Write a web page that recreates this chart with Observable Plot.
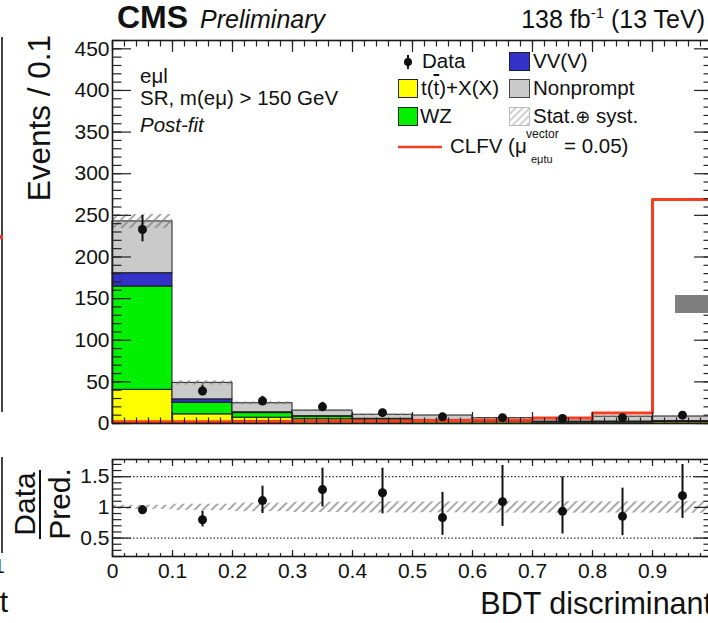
<!DOCTYPE html>
<html>
<head>
<meta charset="utf-8">
<script src="https://cdn.jsdelivr.net/npm/d3@7"></script>
<script src="https://cdn.jsdelivr.net/npm/@observablehq/plot@0.6"></script>
<style>
  html, body { margin: 0; padding: 0; background: #fff; }
  #fig { position: relative; width: 708px; height: 623px; overflow: hidden; background: #fff;
         font-family: "Liberation Sans", Arial, Helvetica, sans-serif; color: #111; }
  #main, #ratio { position: absolute; left: 0; width: 720px; }
  #main { top: 0; }
  #ratio { top: 440px; }
  #overlay { position: absolute; left: 0; top: 0; pointer-events: none; }
  .edge { position: absolute; background: #444; }
</style>
</head>
<body>
<div id="fig">
  <svg width="0" height="0" style="position:absolute">
    <defs>
      <pattern id="hatch" patternUnits="userSpaceOnUse" width="6" height="6" patternTransform="rotate(45)">
        <line x1="1" y1="0" x2="1" y2="6" stroke="#7a7a7a" stroke-width="1.3"/>
      </pattern>
      <pattern id="hatchLight" patternUnits="userSpaceOnUse" width="5" height="5" patternTransform="rotate(45)">
        <line x1="1" y1="0" x2="1" y2="5" stroke="#aaa" stroke-width="1.1"/>
      </pattern>
    </defs>
  </svg>
  <div id="main"></div>
  <div id="ratio"></div>

  <!-- pieces of the neighbouring panel along the left edge -->
  <div class="edge" style="left:1px; top:37px; width:1.5px; height:375px;"></div>
  <div class="edge" style="left:0px; top:235px; width:3px; height:4px; background:#e33;"></div>
  <div class="edge" style="left:1px; top:457px; width:1.5px; height:96px;"></div>
  <!-- grey block at the right edge -->
  <div class="edge" style="left:675px; top:295px; width:40px; height:18px; background:#7f7f7f;"></div>

  <svg id="overlay" width="708" height="623" font-family="Liberation Sans, Arial, Helvetica, sans-serif" fill="#111">
    <!-- header -->
    <text x="117" y="28" font-size="32" font-weight="bold">CMS</text>
    <text x="200" y="28" font-size="25" font-style="italic">Preliminary</text>
    <text x="705" y="28" font-size="25" text-anchor="end">138 fb<tspan dy="-10" font-size="15">-1</tspan><tspan dy="10"> (13 TeV)</tspan></text>

    <!-- axis titles -->
    <text transform="translate(50,35) rotate(-90)" font-size="31.5" text-anchor="end">Events / 0.1</text>
    <text x="712" y="614" font-size="30.5" text-anchor="end">BDT discriminant</text>
    <text transform="translate(35,504) rotate(-90)" font-size="30" text-anchor="middle">Data</text>
    <line x1="40" y1="470" x2="40" y2="539" stroke="#111" stroke-width="2"/>
    <text transform="translate(70,504) rotate(-90)" font-size="30" text-anchor="middle">Pred.</text>

    <!-- region labels -->
    <text x="140" y="83" font-size="20.5">eμl</text>
    <text x="140" y="105" font-size="20.5">SR, m(eμ) &gt; 150 GeV</text>
    <text x="140" y="132" font-size="20.5" font-style="italic">Post-fit</text>

    <!-- legend -->
    <line x1="408" y1="55" x2="408" y2="69" stroke="#111" stroke-width="2"/>
    <circle cx="408" cy="62" r="4" fill="#111"/>
    <text x="422" y="68" font-size="20.5">Data</text>
    <rect x="509.5" y="52.5" width="20" height="18" fill="#3232c8" stroke="#222"/>
    <text x="533" y="68" font-size="20.5">VV(V)</text>

    <rect x="398.5" y="79.5" width="19" height="18" fill="#ffff00" stroke="#222"/>
    <text x="421" y="95" font-size="20.5">t(<tspan style="text-decoration: overline">t</tspan>)+X(X)</text>
    <rect x="509.5" y="79.5" width="20" height="18" fill="#cacaca" stroke="#444"/>
    <text x="533" y="95" font-size="20.5">Nonprompt</text>

    <rect x="398.5" y="107.5" width="19" height="18" fill="#00f000" stroke="#222"/>
    <text x="420" y="123" font-size="20.5">WZ</text>
    <rect x="509.5" y="107.5" width="20" height="18" fill="url(#hatchLight)" stroke="#bbb"/>
    <text x="533" y="123" font-size="20.5">Stat.<tspan font-family="DejaVu Sans" font-size="18">⊕</tspan> syst.</text>

    <line x1="398" y1="147" x2="442" y2="147" stroke="#fa3d1e" stroke-width="2.5"/>
    <text x="450" y="153" font-size="20.5">CLFV (μ</text>
    <text x="526" y="138" font-size="12">vector</text>
    <text x="531" y="163" font-size="11">eμtu</text>
    <text x="564" y="153" font-size="20.5">= 0.05)</text>

    <!-- cut-off text of the neighbouring panel -->
    <text x="5" y="573" font-size="21" text-anchor="end" fill="#111">1</text>
    <text x="8" y="612" font-size="30" text-anchor="end" fill="#111">t</text>
  </svg>
</div>

<script>
// ---- BDT discriminant bins (lower edges, width 0.1) ----
const binLow = [0.0, 0.1, 0.2, 0.3, 0.4, 0.5, 0.6, 0.7, 0.8, 0.9];
const binWidth = 0.1;

// ---- post-fit background yields per bin ----
const ttX       = [40.5, 11.0, 7.0, 5.0, 3.5, 2.8, 2.0, 1.5, 1.5, 1.8];
const wz        = [124.0, 14.0, 5.5, 3.2, 1.7, 1.2, 0.8, 0.6, 0.6, 0.8];
const vvv       = [16.0, 4.0, 1.0, 0.6, 0.4, 0.3, 0.2, 0.2, 0.3, 0.3];
const nonprompt = [62.2, 19.8, 10.8, 6.7, 4.9, 5.3, 3.4, 4.1, 5.8, 5.5];
// total uncertainty (stat. + syst.) on the prediction
const predUnc   = [8.3, 2.5, 1.7, 1.3, 0.95, 0.85, 0.6, 0.6, 0.75, 0.8];

// ---- observed data with Poisson intervals ----
const dataCounts = [233, 39, 27, 20, 13, 8, 7, 6, 7, 10];
const dataLow    = [218.2, 33.3, 21.9, 15.6, 9.4, 5.23, 4.42, 3.62, 4.42, 6.89];
const dataHigh   = [249.8, 45.8, 32.7, 25.4, 17.2, 11.95, 10.77, 9.58, 10.77, 14.27];

// ---- CLFV signal (vector, mu = 0.05) ----
const clfv = [2.0, 2.0, 2.5, 3.0, 3.0, 3.5, 4.0, 6.5, 12.5, 269];

// ---- processes, stacked bottom to top ----
const seriesNames  = ["t(t̄)+X(X)", "WZ", "VV(V)", "Nonprompt"];
const seriesColors = ["#ffff00", "#00f000", "#3232c8", "#cacaca"];
const seriesYields = [ttX, wz, vvv, nonprompt];

// ---- axis ticks ----
const xMajor = [0, 0.1, 0.2, 0.3, 0.4, 0.5, 0.6, 0.7, 0.8, 0.9, 1.0];
const xMinor = d3.range(0, 51).map(i => i / 50);
const xLabels = [0, 0.1, 0.2, 0.3, 0.4, 0.5, 0.6, 0.7, 0.8, 0.9];
const yMajor = [0, 50, 100, 150, 200, 250, 300, 350, 400, 450];
const yMinor = d3.range(0, 461, 10);
const rMajor = [0.5, 1, 1.5];
const rMinor = d3.range(2, 18).map(i => i / 10);

// ---- tables built from the arrays ----
const stackRows = [];
binLow.forEach((x, i) => {
  let base = 0;
  seriesNames.forEach((s, k) => {
    const v = seriesYields[k][i];
    stackRows.push({series: s, x1: x, x2: x + binWidth, y1: base, y2: base + v});
    base += v;
  });
});

const bins = binLow.map((x, i) => {
  const pred = ttX[i] + wz[i] + vvv[i] + nonprompt[i];
  return {
    x1: x, x2: x + binWidth, xc: x + binWidth / 2,
    pred, unc: predUnc[i],
    data: dataCounts[i], lo: dataLow[i], hi: dataHigh[i],
    ratio: dataCounts[i] / pred, rLo: dataLow[i] / pred, rHi: dataHigh[i] / pred,
    band: predUnc[i] / pred
  };
});

const clfvPts = binLow.map((x, i) => ({x, y: clfv[i]}))
  .concat([{x: binLow[binLow.length - 1] + binWidth, y: clfv[clfv.length - 1]}]);

const font = "Liberation Sans, Arial, Helvetica, sans-serif";
const tickStroke = {stroke: "#222", strokeWidth: 1.2, fill: "none", label: null};

// frame ticks on all four sides, pointing inwards
function frameTicks(xMaj, xMin, yMaj, yMin, xLen, yLen) {
  return [
    Plot.axisY({ticks: yMaj, tickSize: -yLen, ...tickStroke}),
    Plot.axisY({ticks: yMin, tickSize: -yLen / 2, ...tickStroke}),
    Plot.axisY({anchor: "right", ticks: yMaj, tickSize: -yLen, ...tickStroke}),
    Plot.axisY({anchor: "right", ticks: yMin, tickSize: -yLen / 2, ...tickStroke}),
    Plot.axisX({anchor: "bottom", ticks: xMaj, tickSize: -xLen, ...tickStroke}),
    Plot.axisX({anchor: "bottom", ticks: xMin, tickSize: -xLen / 2, ...tickStroke}),
    Plot.axisX({anchor: "top", ticks: xMaj, tickSize: -xLen, ...tickStroke}),
    Plot.axisX({anchor: "top", ticks: xMin, tickSize: -xLen / 2, ...tickStroke})
  ];
}

// ---- upper panel: stacked yields ----
const main = Plot.plot({
  width: 720, height: 430,
  marginLeft: 112, marginRight: 8, marginTop: 40, marginBottom: 7,
  style: {fontFamily: font, fontSize: "21px", color: "#111", background: "transparent", overflow: "visible"},
  x: {domain: [0, 1]},
  y: {domain: [0, 460]},
  color: {domain: seriesNames, range: seriesColors},
  marks: [
    Plot.rect(stackRows, {x1: "x1", x2: "x2", y1: "y1", y2: "y2", fill: "series", stroke: "#1a1a1a", strokeWidth: 1}),
    Plot.rect(bins, {x1: "x1", x2: "x2", y1: d => d.pred - d.unc, y2: d => d.pred + d.unc, fill: "url(#hatch)"}),
    Plot.line(clfvPts, {x: "x", y: "y", curve: "step-after", stroke: "#fa3d1e", strokeWidth: 3}),
    Plot.ruleX(bins, {x: "xc", y1: "lo", y2: "hi", stroke: "#111", strokeWidth: 2}),
    Plot.dot(bins, {x: "xc", y: "data", r: 4.5, fill: "#111", stroke: "none"}),
    ...frameTicks(xMajor, xMinor, yMajor, yMinor, 11, 19),
    Plot.axisY({ticks: yMajor, tickSize: 0, tickPadding: 3, tickFormat: d => String(d), label: null, fontSize: 21}),
    Plot.frame({stroke: "#1a1a1a", strokeWidth: 1.6})
  ]
});
document.getElementById("main").appendChild(main);

// ---- lower panel: data / prediction ----
const ratio = Plot.plot({
  width: 720, height: 183,
  marginLeft: 112, marginRight: 8, marginTop: 19, marginBottom: 67,
  style: {fontFamily: font, fontSize: "21px", color: "#111", background: "transparent", overflow: "visible"},
  x: {domain: [0, 1]},
  y: {domain: [0.2, 1.78]},
  marks: [
    Plot.rect(bins, {x1: "x1", x2: "x2", y1: d => 1 - d.band, y2: d => 1 + d.band, fill: "url(#hatch)"}),
    Plot.ruleY([0.5, 1.5], {stroke: "#333", strokeWidth: 1.2, strokeDasharray: "1.5,2"}),
    Plot.ruleX(bins, {x: "xc", y1: "rLo", y2: "rHi", stroke: "#111", strokeWidth: 2}),
    Plot.dot(bins, {x: "xc", y: "ratio", r: 4.5, fill: "#111", stroke: "none"}),
    ...frameTicks(xMajor, xMinor, rMajor, rMinor, 6, 19),
    Plot.axisY({ticks: rMajor, tickSize: 0, tickPadding: 3, tickFormat: d => String(d), label: null, fontSize: 21}),
    Plot.axisX({ticks: xLabels, tickSize: 0, tickPadding: 7, tickFormat: d => d === 0 ? "0" : d.toFixed(1), label: null, fontSize: 21}),
    Plot.frame({stroke: "#1a1a1a", strokeWidth: 1.6})
  ]
});
document.getElementById("ratio").appendChild(ratio);
</script>
</body>
</html>
